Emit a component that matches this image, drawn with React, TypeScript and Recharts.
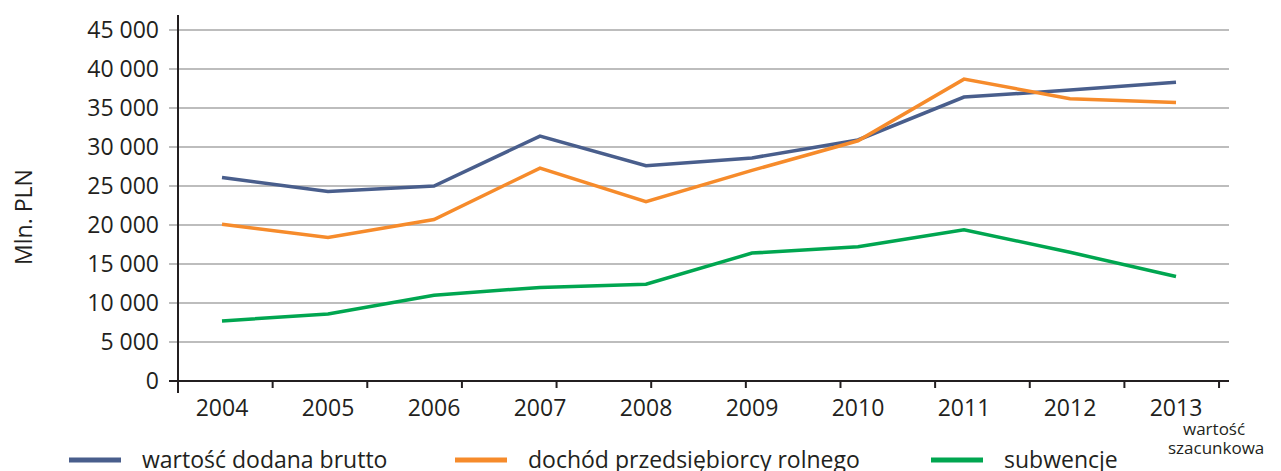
import React from 'react'
import { CartesianGrid, Line, LineChart, XAxis, YAxis } from 'recharts'

const years = ['2004', '2005', '2006', '2007', '2008', '2009', '2010', '2011', '2012', '2013']
const grossValueAdded = [26100, 24300, 25000, 31400, 27600, 28600, 30900, 36400, 37300, 38300]
const farmerIncome = [20100, 18400, 20700, 27300, 23000, 27000, 30800, 38700, 36200, 35700]
const subsidies = [7700, 8600, 11000, 12000, 12400, 16400, 17200, 19400, 16500, 13400]
const yTicks = [0, 5000, 10000, 15000, 20000, 25000, 30000, 35000, 40000, 45000]
// the original axis has its tick marks on a slightly different grid than the labels
const xTickMarks = [0, 1, 2, 3, 4, 5, 6, 7, 8, 9, 10, 11]

const series = [
  { key: 'gva', name: 'wartość dodana brutto', color: '#495e8c', legendX: 69 },
  { key: 'income', name: 'dochód przedsiębiorcy rolnego', color: '#f68b2b', legendX: 455 },
  { key: 'subsidy', name: 'subwencje', color: '#00a650', legendX: 931 },
]

const data = years.map((year, i) => ({
  year,
  gva: grossValueAdded[i],
  income: farmerIncome[i],
  subsidy: subsidies[i],
}))

const formatThousands = (v: number) =>
  String(v).replace(/\B(?=(\d{3})+(?!\d))/g, ' ')

const ink = '#231f20'

// plot area geometry (page pixels)
const plotLeft = 169
const plotTop = 30
const plotBottom = 381
const plotRight = 1229
const axisX = 178
const markStep = 94.64

export default function App() {
  return (
    <div
      style={{
        position: 'absolute',
        left: 0,
        top: 0,
        width: 1281,
        height: 471,
        background: '#fff',
        fontFamily: "'Open Sans', sans-serif",
        color: ink,
      }}
    >
      <LineChart
        width={1281}
        height={471}
        data={data}
        margin={{ top: plotTop, right: 1281 - plotRight, bottom: 50, left: 0 }}
      >
        <CartesianGrid vertical={false} stroke="#a7a7a7" strokeWidth={1.5} />
        <XAxis
          dataKey="year"
          scale="band"
          tickLine={false}
          axisLine={{ stroke: ink, strokeWidth: 2 }}
          tickMargin={13}
          height={40}
          tick={{ fill: ink, fontSize: 23 }}
        />
        <YAxis
          width={plotLeft}
          domain={[0, 45000]}
          ticks={yTicks}
          axisLine={false}
          tickLine={false}
          tickMargin={4}
          tickFormatter={formatThousands}
          tick={{ fill: ink, fontSize: 23 }}
          label={() => (
            <text
              x={32}
              y={217}
              transform="rotate(-90 32 217)"
              textAnchor="middle"
              fontSize={23}
              fill={ink}
            >
              Mln. PLN
            </text>
          )}
        />
        {series.map((s) => (
          <Line
            key={s.key}
            type="linear"
            dataKey={s.key}
            name={s.name}
            stroke={s.color}
            strokeWidth={3.5}
            dot={false}
            activeDot={false}
            isAnimationActive={false}
          />
        ))}
      </LineChart>
      <svg
        width={1281}
        height={471}
        style={{ position: 'absolute', left: 0, top: 0, pointerEvents: 'none' }}
      >
        <line x1={axisX} x2={axisX} y1={15} y2={393} stroke={ink} strokeWidth={2} />
        {xTickMarks.map((m) => (
          <line
            key={m}
            x1={axisX + m * markStep}
            x2={axisX + m * markStep}
            y1={plotBottom}
            y2={plotBottom + 7}
            stroke={ink}
            strokeWidth={2}
          />
        ))}
        {series.map((s) => (
          <g key={s.key}>
            <line
              x1={s.legendX}
              x2={s.legendX + 52}
              y1={460}
              y2={460}
              stroke={s.color}
              strokeWidth={5}
            />
            <text x={s.legendX + 73} y={468} fontSize={23} fill={ink}>
              {s.name}
            </text>
          </g>
        ))}
        <text x={1183} y={435} fontSize={17} fill={ink}>
          wartość
        </text>
        <text x={1168} y={454} fontSize={17} fill={ink}>
          szacunkowa
        </text>
      </svg>
    </div>
  )
}
